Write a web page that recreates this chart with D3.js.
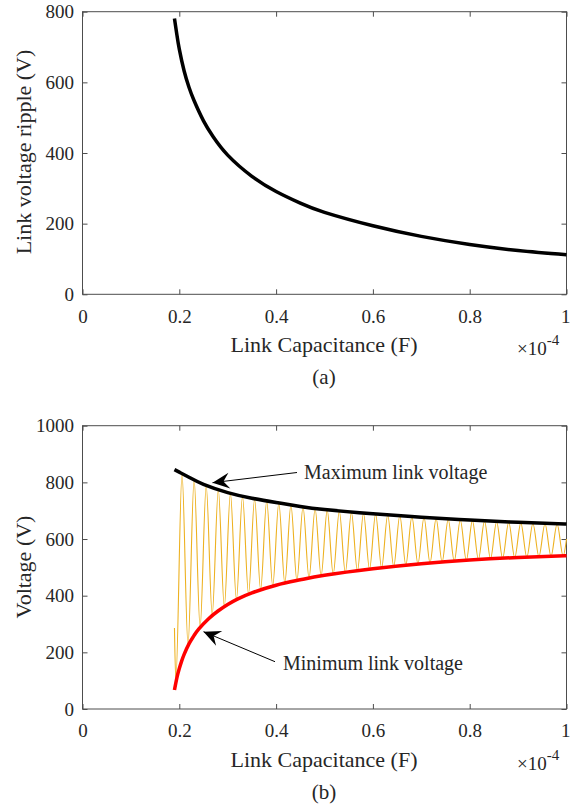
<!DOCTYPE html>
<html>
<head>
<meta charset="utf-8">
<script src="https://cdn.jsdelivr.net/npm/d3@7"></script>
<style>
  body { margin: 0; background: #fff; }
  svg text { font-family: "Liberation Serif", "Times New Roman", Tinos, "DejaVu Serif", serif !important; fill: #262626; }
</style>
</head>
<body>
<svg id="chart" width="570" height="804"></svg>
<script>
// capacitance in units of 1e-4 F
const xTicks = [0, 0.2, 0.4, 0.6, 0.8, 1];
const rippleTicks = [0, 200, 400, 600, 800];
const voltTicks = [0, 200, 400, 600, 800, 1000];

// (a) link voltage ripple
const rippleC = [0.19, 0.195, 0.2, 0.21, 0.22, 0.23, 0.25, 0.27, 0.3, 0.35, 0.4, 0.45, 0.5, 0.6, 0.7, 0.8, 0.9, 1.0];
const rippleV = [781, 735, 694, 632, 586, 550, 491, 446, 394, 334, 291, 258, 232, 194, 164, 141, 124, 112];

// (b) max / min link voltage envelopes
const maxC = [0.19, 0.2, 0.22, 0.25, 0.3, 0.35, 0.4, 0.45, 0.5, 0.6, 0.7, 0.8, 0.9, 1.0];
const maxV = [845, 836, 818, 793, 764, 744, 729, 715, 704, 689, 677, 667, 659, 653];
const minC = [0.19, 0.195, 0.2, 0.205, 0.21, 0.22, 0.23, 0.24, 0.26, 0.28, 0.3, 0.32, 0.35, 0.4, 0.45, 0.5, 0.6, 0.7, 0.8, 0.9, 1.0];
const minV = [67, 110, 143, 170, 193, 230, 258, 282, 318, 346, 369, 388, 410, 437, 456, 472, 495, 513, 526, 535, 541];

// oscillating link voltage: peaks and troughs
const peakC = [0.2056, 0.2306, 0.2556, 0.2806, 0.3056, 0.3306, 0.3556, 0.3806, 0.4056, 0.4306,
  0.4556, 0.4806, 0.5056, 0.5306, 0.5556, 0.5806, 0.6056, 0.6306, 0.6556, 0.6806,
  0.7056, 0.7306, 0.7556, 0.7806, 0.8056, 0.8306, 0.8556, 0.8806, 0.9056, 0.9306, 0.9556, 0.9806];
const peakV = [830, 810, 788, 774, 761, 751, 741, 734, 727, 720,
  713, 707, 702, 698, 694, 691, 688, 685, 683, 679,
  676, 672, 670, 667, 665, 663, 661, 659, 657, 655, 654, 653];
const troughC = [0.218, 0.243, 0.268, 0.293, 0.318, 0.343, 0.368, 0.393, 0.418, 0.443,
  0.468, 0.493, 0.518, 0.543, 0.568, 0.593, 0.618, 0.643, 0.668, 0.693,
  0.718, 0.743, 0.768, 0.793, 0.818, 0.843, 0.868, 0.893, 0.918, 0.943, 0.968, 0.993];
const troughV = [226, 288, 332, 361, 386, 405, 421, 434, 444, 453,
  462, 470, 476, 482, 487, 493, 498, 503, 508, 512,
  516, 519, 522, 525, 528, 530, 532, 534, 536, 538, 539, 540];
const waveStart = [[0.19, 286], [0.1928, 102]];
const waveEnd = [[1.0, 600]];

const svg = d3.select("#chart");
const left = 82.5, right = 566.5;
const serif = "'Liberation Serif', 'Times New Roman', Tinos, serif";

function panel(top, bottom, yMax, yTicks) {
    const x = d3.scaleLinear().domain([0, 1]).range([left, right]);
    const y = d3.scaleLinear().domain([0, yMax]).range([bottom, top]);
    const g = svg.append("g");

    g.append("rect")
        .attr("x", left).attr("y", top)
        .attr("width", right - left).attr("height", bottom - top)
        .attr("fill", "none").attr("stroke", "#4d4d4d").attr("stroke-width", 1);

    const fmt = d => d === 0 || d === 1 ? String(d) : d.toFixed(1);
    g.append("g").attr("transform", `translate(0,${bottom})`)
        .call(d3.axisBottom(x).tickValues(xTicks).tickSize(-5).tickPadding(15).tickFormat(fmt))
        .call(a => a.select(".domain").remove())
        .call(a => a.selectAll(".tick text").filter(d => d === 1)
            .attr("text-anchor", "end").attr("x", 3.5));
    g.append("g").attr("transform", `translate(0,${top})`)
        .call(d3.axisTop(x).tickValues(xTicks).tickSize(-5).tickFormat(""))
        .call(a => a.select(".domain").remove());
    g.append("g").attr("transform", `translate(${left},0)`)
        .call(d3.axisLeft(y).tickValues(yTicks).tickSize(-5).tickPadding(8.5).tickFormat(d3.format("d")))
        .call(a => a.select(".domain").remove());
    g.append("g").attr("transform", `translate(${right},0)`)
        .call(d3.axisRight(y).tickValues(yTicks).tickSize(-5).tickFormat(""))
        .call(a => a.select(".domain").remove());

    g.selectAll("g").attr("font-family", serif);
    g.selectAll(".tick line").attr("stroke", "#4d4d4d");
    g.selectAll(".tick text")
        .attr("font-family", serif)
        .attr("font-size", 19).attr("fill", "#262626");

    return { x, y, g };
}

function xLabels(p, bottom, tag) {
    p.g.append("text").attr("x", 324).attr("y", bottom + 58)
        .attr("text-anchor", "middle").attr("font-size", 22)
        .text("Link Capacitance (F)");
    const m = p.g.append("text").attr("x", 517).attr("y", bottom + 61).attr("font-size", 19);
    m.append("tspan").text("\u00d710");
    m.append("tspan").attr("dy", -10).attr("font-size", 15).text("-4");
    p.g.append("text").attr("x", 324).attr("y", bottom + 90)
        .attr("text-anchor", "middle").attr("font-size", 21).text(tag);
}

function yLabel(p, cy, label) {
    p.g.append("text")
        .attr("transform", `translate(31,${cy}) rotate(-90)`)
        .attr("text-anchor", "middle").attr("font-size", 22).text(label);
}

function arrow(g, x1, y1, x2, y2) {
    g.append("line").attr("x1", x1).attr("y1", y1).attr("x2", x2).attr("y2", y2)
        .attr("stroke", "#000").attr("stroke-width", 1);
    const a = Math.atan2(y2 - y1, x2 - x1);
    const L = 17, W = 8, N = 11;
    const ux = Math.cos(a), uy = Math.sin(a);
    const px = -uy, py = ux;
    const pts = [
        [x2, y2],
        [x2 - L * ux + W * px, y2 - L * uy + W * py],
        [x2 - N * ux, y2 - N * uy],
        [x2 - L * ux - W * px, y2 - L * uy - W * py]
    ];
    g.append("path").attr("d", "M" + pts.map(p => p.join(",")).join("L") + "Z").attr("fill", "#000");
}

// ---- panel (a)
const pa = panel(11.7, 294.3, 800, rippleTicks);
pa.g.append("path")
    .datum(d3.zip(rippleC, rippleV))
    .attr("fill", "none").attr("stroke", "#000").attr("stroke-width", 3.5)
    .attr("d", d3.line().x(d => pa.x(d[0])).y(d => pa.y(d[1])).curve(d3.curveNatural));
xLabels(pa, 294.3, "(a)");
yLabel(pa, 152, "Link voltage ripple (V)");

// ---- panel (b)
const pb = panel(425.7, 709, 1000, voltTicks);
const wave = waveStart.slice();
troughC.forEach((c, i) => {
    if (i < peakC.length) wave.push([peakC[i], peakV[i]]);
    wave.push([c, troughV[i]]);
});
waveEnd.forEach(d => wave.push(d));
wave.sort((a, b) => a[0] - b[0]);

const lineB = d3.line().x(d => pb.x(d[0])).y(d => pb.y(d[1]));
pb.g.append("path").datum(wave)
    .attr("fill", "none").attr("stroke", "#EDB120").attr("stroke-width", 1.1)
    .attr("d", lineB.curve(d3.curveMonotoneX));
pb.g.append("path").datum(d3.zip(maxC, maxV))
    .attr("fill", "none").attr("stroke", "#000").attr("stroke-width", 3.5)
    .attr("d", lineB.curve(d3.curveNatural));
pb.g.append("path").datum(d3.zip(minC, minV))
    .attr("fill", "none").attr("stroke", "#ff0000").attr("stroke-width", 3.5)
    .attr("d", lineB.curve(d3.curveNatural));

pb.g.append("text").attr("x", 304).attr("y", 479).attr("font-size", 20).text("Maximum link voltage");
arrow(pb.g, 297, 472.5, 212.5, 482.7);
pb.g.append("text").attr("x", 283).attr("y", 670).attr("font-size", 20).text("Minimum link voltage");
arrow(pb.g, 275, 661.7, 203.5, 631.7);

xLabels(pb, 709, "(b)");
yLabel(pb, 567, "Voltage (V)");
</script>
</body>
</html>
